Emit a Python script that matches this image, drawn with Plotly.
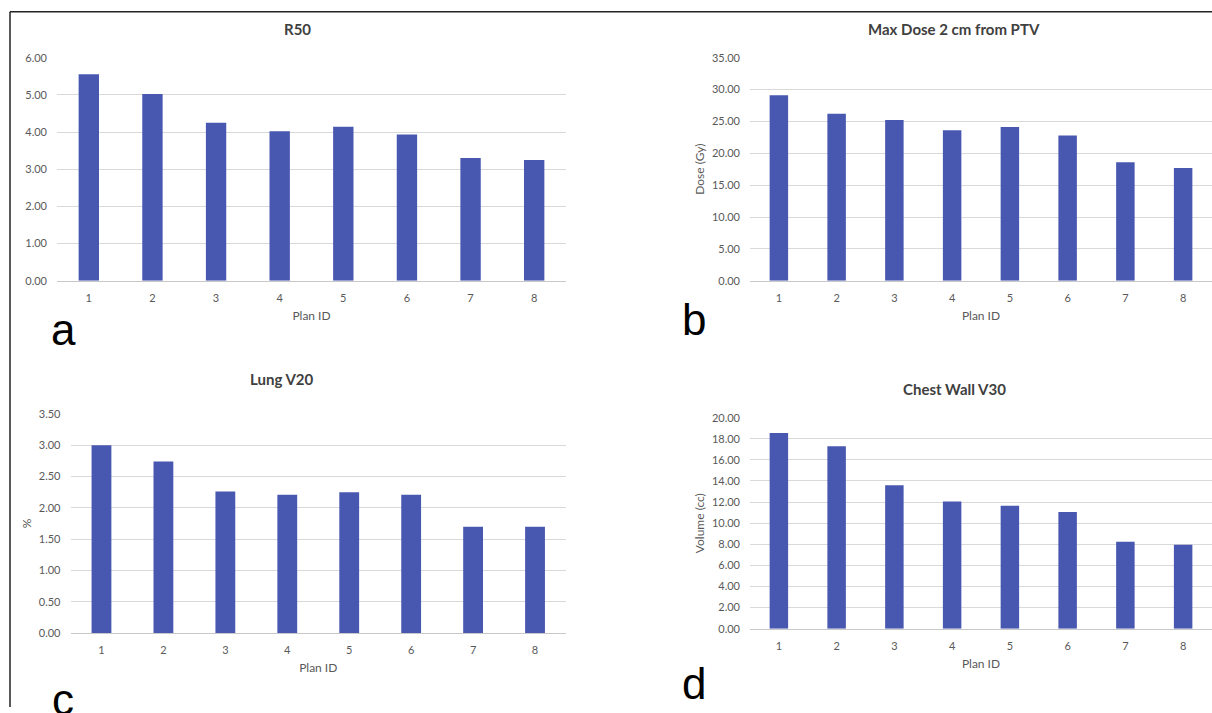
import plotly.graph_objects as go

plan_ids = ["1", "2", "3", "4", "5", "6", "7", "8"]
r50 = [5.55, 5.02, 4.25, 4.02, 4.14, 3.93, 3.30, 3.25]
max_dose_2cm = [29.1, 26.2, 25.2, 23.6, 24.1, 22.8, 18.6, 17.7]
lung_v20 = [3.00, 2.74, 2.26, 2.21, 2.25, 2.21, 1.70, 1.70]
chest_wall_v30 = [18.55, 17.3, 13.6, 12.05, 11.65, 11.05, 8.25, 7.95]

titles = ["R50", "Max Dose 2 cm from PTV", "Lung V20", "Chest Wall V30"]
y_titles = ["", "Dose (Gy)", "%", "Volume (cc)"]
letters = ["a", "b", "c", "d"]
y_ranges = [(0, 6), (0, 35), (0, 3.5), (0, 20)]
y_dticks = [1, 5, 0.5, 2]

W, H = 1212, 713
BAR = "#4858B0"
FONT = "Lato, 'Open Sans', sans-serif"


def Y(px):
    """vertical pixel (from top) -> paper fraction, compensating the capture's vertical squeeze"""
    v = (px - 7.75) / 0.98
    return min(max(1 - v / H, 0.0), 1.0)


# panel geometry in pixels: (x0, x1, ytop, ybottom)
panels = [(57, 566, 58.3, 281), (750, 1212, 58.3, 281),
          (70.5, 566, 414, 632.7), (750, 1212, 417.7, 628.3)]

fig = go.Figure()
series = [r50, max_dose_2cm, lung_v20, chest_wall_v30]
for i, vals in enumerate(series):
    xa = "x" if i == 0 else f"x{i+1}"
    ya = "y" if i == 0 else f"y{i+1}"
    fig.add_trace(go.Bar(x=plan_ids, y=vals, xaxis=xa, yaxis=ya,
                         marker=dict(color=BAR, line=dict(width=0)),
                         width=0.32, showlegend=False))

layout = dict(width=W, height=H, margin=dict(l=0, r=0, t=0, b=0),
              paper_bgcolor="white", plot_bgcolor="white",
              font=dict(family=FONT, color="#595959", size=11))

annotations = []
for i, (x0, x1, yt, yb) in enumerate(panels):
    sfx = "" if i == 0 else str(i + 1)
    layout["xaxis" + sfx] = dict(
        domain=[x0 / W, min(x1 / W, 1.0)], anchor="y" + sfx, type="category",
        showgrid=False, showline=True, linecolor="#c8c8c8", linewidth=1,
        ticks="", ticklabelstandoff=7, tickfont=dict(size=11, color="#595959"),
        title=dict(text="Plan ID", font=dict(size=12, color="#595959"), standoff=8),
        fixedrange=True)
    layout["yaxis" + sfx] = dict(
        domain=[Y(yb), Y(yt)], anchor="x" + sfx,
        range=list(y_ranges[i]), dtick=y_dticks[i], tick0=0, tickformat=".2f",
        showgrid=True, gridcolor="#d9d9d9", gridwidth=1, zeroline=False,
        showline=False, ticks="", ticklabelstandoff=9,
        tickfont=dict(size=11, color="#595959"),
        title=dict(text=y_titles[i], font=dict(size=12, color="#595959"), standoff=4),
        fixedrange=True)

# chart titles
title_pos = [(297, 30), (954, 30), (282, 379), (954, 389)]
for t, (tx, ty) in zip(titles, title_pos):
    annotations.append(dict(text=f"<b>{t}</b>", x=tx / W, y=Y(ty), xref="paper", yref="paper",
                            showarrow=False, xanchor="center", yanchor="middle",
                            font=dict(size=15, color="#404040", family=FONT)))
# panel letters
letter_pos = [(63, 330), (694, 320), (63, 699), (694, 683)]
for t, (lx, ly) in zip(letters, letter_pos):
    annotations.append(dict(text=t, x=lx / W, y=Y(ly), xref="paper", yref="paper",
                            showarrow=False, xanchor="center", yanchor="middle",
                            font=dict(size=44, color="#000000", family="Liberation Sans, Arial, sans-serif")))
layout["annotations"] = annotations

layout["shapes"] = [
    dict(type="line", xref="paper", yref="paper", x0=10 / W, x1=1, y0=Y(12.5), y1=Y(12.5),
         line=dict(color="#222222", width=1.5)),
    dict(type="line", xref="paper", yref="paper", x0=10 / W, x1=10 / W, y0=0, y1=Y(12.5),
         line=dict(color="#222222", width=1.5)),
]

fig.update_layout(**layout)
fig.write_html("out.html", config={"displayModeBar": False},
               post_script="document.body.style.margin='0';document.body.style.padding='0';"
                           "document.body.style.overflow='hidden';")
